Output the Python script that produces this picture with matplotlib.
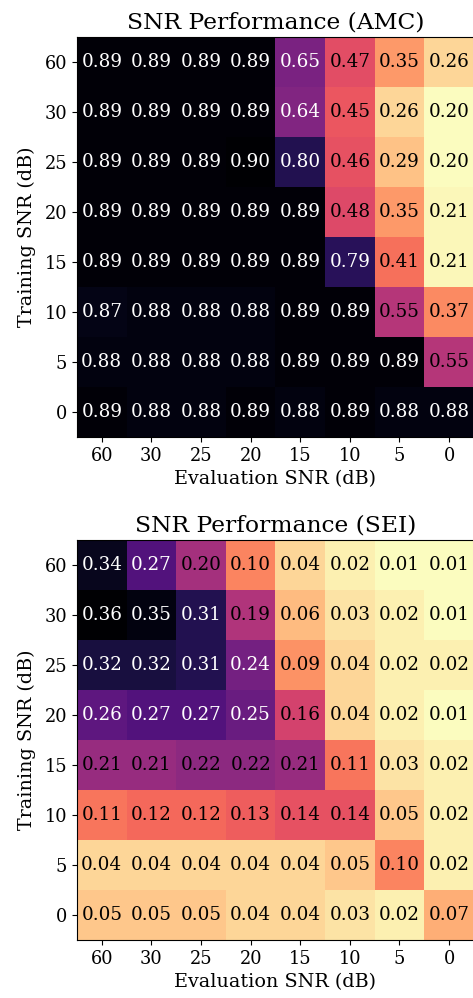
import numpy as np
import matplotlib
matplotlib.use("Agg")
from matplotlib import pyplot as plt

plt.rcParams['font.family'] = 'DejaVu Serif'

# SNR labels (dB) for rows (training) and columns (evaluation)
train_snr = ['60', '30', '25', '20', '15', '10', '5', '0']
eval_snr = ['60', '30', '25', '20', '15', '10', '5', '0']

# AMC accuracy, rows = training SNR, cols = evaluation SNR
amc = np.array([
    [0.89, 0.89, 0.89, 0.89, 0.65, 0.47, 0.35, 0.26],
    [0.89, 0.89, 0.89, 0.89, 0.64, 0.45, 0.26, 0.20],
    [0.89, 0.89, 0.89, 0.90, 0.80, 0.46, 0.29, 0.20],
    [0.89, 0.89, 0.89, 0.89, 0.89, 0.48, 0.35, 0.21],
    [0.89, 0.89, 0.89, 0.89, 0.89, 0.79, 0.41, 0.21],
    [0.87, 0.88, 0.88, 0.88, 0.89, 0.89, 0.55, 0.37],
    [0.88, 0.88, 0.88, 0.88, 0.89, 0.89, 0.89, 0.55],
    [0.89, 0.88, 0.88, 0.89, 0.88, 0.89, 0.88, 0.88],
])

# SEI accuracy
sei = np.array([
    [0.34, 0.27, 0.20, 0.10, 0.04, 0.02, 0.01, 0.01],
    [0.36, 0.35, 0.31, 0.19, 0.06, 0.03, 0.02, 0.01],
    [0.32, 0.32, 0.31, 0.24, 0.09, 0.04, 0.02, 0.02],
    [0.26, 0.27, 0.27, 0.25, 0.16, 0.04, 0.02, 0.01],
    [0.21, 0.21, 0.22, 0.22, 0.21, 0.11, 0.03, 0.02],
    [0.11, 0.12, 0.12, 0.13, 0.14, 0.14, 0.05, 0.02],
    [0.04, 0.04, 0.04, 0.04, 0.04, 0.05, 0.10, 0.02],
    [0.05, 0.05, 0.05, 0.04, 0.04, 0.03, 0.02, 0.07],
])


def heatmap(ax, data, title):
    cmap = plt.get_cmap('magma_r')
    norm = plt.Normalize(data.min(), data.max())
    ax.imshow(data, cmap=cmap, norm=norm, aspect='auto')
    for i in range(data.shape[0]):
        for j in range(data.shape[1]):
            # dark cells get white text
            col = 'white' if norm(data[i, j]) > 0.62 else 'black'
            ax.text(j, i, f'{data[i, j]:.2f}', ha='center', va='center',
                    color=col, fontsize=13.2)
    ax.set_xticks(range(len(eval_snr)))
    ax.set_xticklabels(eval_snr, fontsize=12.8)
    ax.set_yticks(range(len(train_snr)))
    ax.set_yticklabels(train_snr, fontsize=12.8)
    ax.set_xlabel('Evaluation SNR (dB)', fontsize=13.8)
    ax.set_ylabel('Training SNR (dB)', fontsize=13.8, labelpad=6)
    ax.set_title(title, fontsize=16.8)


fig = plt.figure(figsize=(4.73, 9.98), dpi=100)
ax1 = fig.add_axes([0.1628, 0.5621, 0.839, 0.4008])
ax2 = fig.add_axes([0.1628, 0.0581, 0.839, 0.4008])

heatmap(ax1, amc, 'SNR Performance (AMC)')
heatmap(ax2, sei, 'SNR Performance (SEI)')

fig.savefig('out.png', dpi=100)
